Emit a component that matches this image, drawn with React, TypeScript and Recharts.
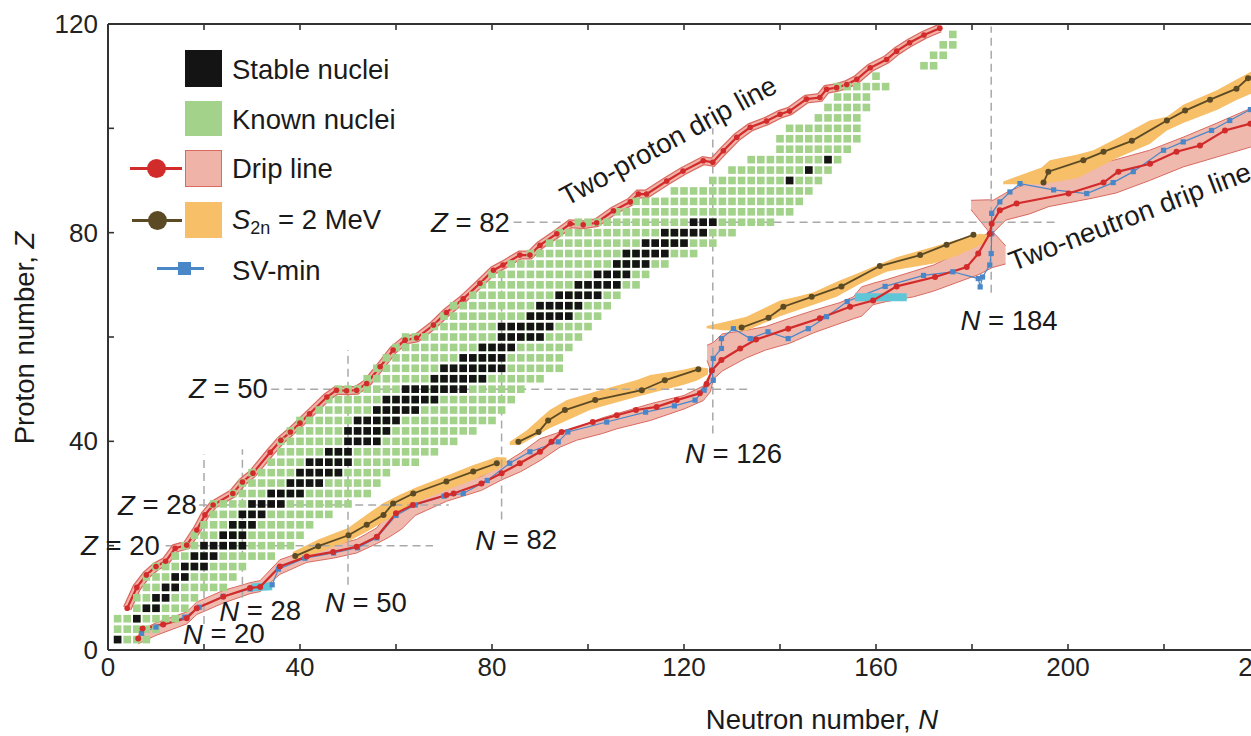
import React from 'react'
import { ComposedChart, XAxis, YAxis, Line, Area, Scatter, ReferenceDot } from 'recharts'

const FONT = '"Liberation Sans", Arial, Helvetica, sans-serif'
const X_TICKS = [0, 20, 40, 60, 80, 100, 120, 140, 160, 180, 200, 220, 240]
const Y_TICKS = [0, 20, 40, 60, 80, 100, 120]

// known (even-even) nuclei: one row per proton number, neutron range
const knownZ = [2, 4, 6, 8, 10, 12, 14, 16, 18, 20, 22, 24, 26, 28, 30, 32, 34, 36, 38, 40, 42, 44, 46, 48, 50, 52, 54, 56, 58, 60, 62, 64, 66, 68, 70, 72, 74, 76, 78, 80, 82, 84, 86, 88, 90, 92, 94, 96, 98, 100, 102, 104, 106, 108, 110, 112, 114, 116, 118]
const knownNmin = [2, 2, 2, 6, 6, 8, 8, 10, 14, 16, 18, 20, 22, 22, 26, 28, 30, 34, 36, 36, 38, 40, 44, 46, 48, 54, 56, 58, 60, 62, 68, 70, 72, 76, 78, 80, 84, 88, 92, 94, 98, 106, 110, 118, 126, 130, 134, 140, 140, 142, 148, 150, 152, 152, 160, 170, 172, 174, 176]
const knownNmax = [8, 10, 14, 16, 18, 24, 26, 28, 34, 38, 40, 42, 46, 50, 54, 56, 58, 64, 68, 72, 76, 80, 82, 84, 86, 90, 94, 94, 96, 98, 100, 102, 104, 106, 110, 112, 116, 122, 126, 130, 138, 142, 144, 146, 148, 150, 152, 154, 156, 156, 156, 158, 158, 162, 160, 172, 174, 176, 176]

// stable nuclei
const stableZ = [2, 6, 8, 10, 12, 14, 16, 18, 20, 22, 24, 26, 28, 30, 32, 34, 36, 38, 40, 42, 44, 46, 48, 50, 52, 54, 56, 58, 60, 62, 64, 66, 68, 70, 72, 74, 76, 78, 80, 82, 90, 92, 94]
const stableNmin = [2, 6, 8, 10, 12, 14, 16, 18, 20, 24, 26, 28, 30, 34, 38, 40, 42, 46, 50, 50, 52, 56, 58, 62, 68, 70, 74, 78, 82, 82, 88, 90, 94, 98, 102, 106, 108, 112, 116, 122, 142, 146, 150]
const stableNmax = [2, 6, 10, 12, 14, 16, 20, 22, 28, 28, 30, 32, 36, 40, 44, 48, 50, 50, 56, 58, 60, 64, 68, 74, 78, 82, 82, 84, 90, 92, 96, 98, 102, 106, 108, 112, 116, 120, 124, 126, 142, 146, 150]

// two-proton drip line [N, Z]
const protonDrip = [[4, 8], [6, 12], [8, 14.4], [10, 16], [12, 17], [14, 19.5], [16.4, 20.1], [18.5, 23], [20.2, 25.9], [21.9, 27.8], [26, 30], [28, 32.2], [30.2, 33.9], [33.8, 37.9], [36, 40.2], [38, 41.8], [40, 43.5], [42, 45.3], [45.6, 48.5], [47.6, 49.8], [49.7, 49.7], [51.8, 49.8], [53.9, 51.1], [56.7, 54.3], [59.4, 57.5], [61.9, 59.4], [64.3, 59.8], [67.8, 62.3], [70.5, 64.7], [74, 67.3], [77.5, 70.3], [80.3, 72.8], [82.3, 73.8], [85.8, 75.7], [87.9, 75.7], [90, 77.6], [93.5, 79.8], [96.3, 81.7], [99, 81.5], [101.8, 81.9], [105.3, 84.2], [108.8, 85.9], [110.5, 87.4], [112.2, 87.4], [116.4, 89.9], [119.8, 91.8], [124, 93.8], [126, 93.5], [128.2, 95.7], [131, 98.3], [133.8, 100.2], [137.2, 101.4], [140, 102.7], [142, 103.3], [145.5, 105.6], [148.3, 105.9], [149.7, 107.5], [151.8, 107.8], [153.9, 108.4], [156, 109.4], [158.8, 111.6], [162.2, 113.2], [164.3, 114.8], [167, 116.4], [170, 117.9], [173.3, 119.2]]

// two-neutron drip line [N, Z]
const neutronDrip = [[6.3, 2.2], [7.2, 4.1], [11.5, 4.9], [16.4, 6.1], [18.5, 8], [24, 10.2], [29.6, 11.9], [31.7, 12.1], [35.8, 16], [41.4, 17.9], [46.9, 18.8], [51.8, 19.8], [56, 21.7], [60, 26.2], [63.5, 27.8], [70.5, 29.7], [72, 30], [77.8, 31.9], [82, 33.9], [85.8, 35.8], [90, 38], [92.4, 39.9], [94.5, 41.8], [101, 43.7], [106, 45], [110, 46], [114.3, 46.6], [118.5, 47.9], [123.3, 49.2], [124.7, 51], [125.8, 53.6], [127.8, 55.6], [131.7, 57.8], [135, 59.5], [141.7, 61.6], [148.3, 63.6], [154.6, 65.8], [159.4, 67], [164.3, 69.7], [172.3, 71.5], [178.9, 73.4], [181.3, 76], [183.7, 79.8], [184.1, 81.7], [185.8, 84.3], [189.3, 85.6], [200.1, 87.5], [207.4, 89.6], [210.5, 91.7], [217.1, 93.2], [222.6, 95.5], [227.5, 96.7], [232.7, 99.6], [238, 100.9], [242, 101.8]]

// drip-line uncertainty [N, low Z, high Z]
const dripBandA = [[6.3, 1.2, 3.6], [10, 2.8, 5.2], [16.4, 5, 7.3], [18.5, 6.8, 9.2], [24, 9, 11.4], [29.6, 10.8, 12.9], [31.7, 11.2, 13.3], [35.8, 14.5, 17.3], [41.4, 16.8, 19.1], [46.9, 17.6, 20.1], [51.8, 18.6, 21.2], [56, 20.4, 23.4], [58.5, 21.6, 26.5], [61.2, 23.2, 28.4], [64, 25.8, 29.4], [70.5, 28.5, 31.3], [77.8, 30.6, 33.3], [82, 32.6, 35.5], [86, 34.2, 37.8], [90, 36.3, 40.5], [94.2, 38.9, 41.8], [97.6, 40.2, 42.6], [103, 41.5, 44.5], [106, 42.4, 45.3], [113, 44, 47.2], [120, 46.2, 48.8], [124, 47.8, 50.6], [125.5, 49.5, 53], [126.3, 52.5, 54]]
const dripBandB = [[124.8, 55.5, 58.4], [126.2, 52, 59], [128, 53.5, 60.6], [133, 56, 61.3], [137, 57.5, 62], [142, 58.8, 63.6], [147, 60.8, 65.1], [152.5, 62.6, 66.6], [155.3, 63.5, 67.7], [157, 64, 69.6], [159.4, 66.2, 70.3], [162.2, 66.8, 71], [167.8, 67.7, 72.6], [172, 68.8, 73.8], [178.2, 70.9, 76.6], [181.5, 72, 79], [184.2, 73.3, 80.3], [187, 74, 77.5]]
const dripBandC = [[179.8, 84.4, 86.2], [183.5, 80.2, 86.3], [184.4, 80, 86.2], [187, 82.4, 87.6], [192, 83.6, 89.7], [196, 85, 90.4], [205, 86.6, 93], [210, 87.6, 94], [217, 90, 95.8], [224, 92.6, 98.3], [231, 94.5, 101], [238, 96.4, 103.8], [242, 97.5, 105]]

// S2n = 2 MeV line [N, Z] and its band [N, low Z, high Z]
const s2nA = [[39, 18], [43.8, 19.9], [50.1, 22], [53.9, 24], [57.4, 25.9], [59.4, 28.1], [63.6, 30], [70.5, 32.3], [76.1, 34.2], [81, 35.8]]
const s2nB = [[85.5, 39.9], [89.7, 41.8], [91.7, 44], [95.2, 46], [101.5, 47.9], [111.2, 49.8], [116, 51.7], [123, 53.8]]
const s2nC = [[132, 61.8], [137.6, 63.7], [140.7, 65.8], [146.6, 67.7], [152.8, 69.7], [160.8, 73.6], [169.2, 75.7], [174.7, 77.7], [180.3, 79.6]]
const s2nD = [[194.9, 89.6], [195.9, 91.7], [203.2, 93.9], [207.4, 95.5], [213.3, 97.6], [220.6, 101.5], [224.4, 103.4], [229.6, 105.5], [235.1, 107.6], [237.5, 109.6], [241, 111]]
const s2nBandA = [[38.5, 17.2, 18.8], [43.8, 18.7, 21.2], [50, 20.8, 23.4], [54, 22.7, 26], [57.4, 24.6, 28.2], [60.9, 26.3, 29.8], [64.3, 28.3, 31.2], [70.5, 30.6, 33.4], [76, 32.6, 35.4], [81, 34.6, 37], [83, 35.6, 36.9]]
const s2nBandB = [[83.7, 39.3, 39.9], [85.8, 39.3, 41.2], [87.2, 40, 42.1], [92, 42.5, 46], [95.6, 44, 47.9], [100.4, 46, 49.2], [102.5, 46.6, 49.8], [110, 48.5, 51.7], [113, 49.2, 52.7], [119.8, 50.8, 53.7], [122.6, 51.6, 54.3], [125, 52.8, 54]]
const s2nBandC = [[124.7, 61.7, 62.1], [128, 61.3, 62.8], [133, 61.2, 63.9], [140, 64, 67], [143.5, 65.1, 67.7], [147, 66.2, 68.6], [151.8, 67.7, 70.6], [156.7, 70.2, 72.4], [162.2, 72.5, 74.5], [164.3, 72.9, 75.3], [172, 74.1, 77.3], [177, 75.6, 78.7], [181.7, 77.6, 79.8], [183.3, 78.5, 79.6]]
const s2nBandD = [[186.5, 89.3, 89.8], [194.5, 89.3, 92.5], [196.2, 89.5, 93.9], [202, 90.5, 95], [205.3, 92, 95.8], [210, 94.2, 98], [217, 97, 101.5], [220.6, 99.6, 102.2], [224, 101, 104.5], [231, 103.5, 107.3], [235, 105.4, 109.3], [238, 106.6, 110.8], [242, 107.6, 112]]

// SV-min drip line [N, Z]
const svMin = [[7, 3.2], [10, 4.4], [16, 6.3], [19, 8.2], [24, 10.3], [29.6, 11.7], [34.2, 12.5], [35.5, 15.5], [41, 17.6], [47, 18.6], [52, 19.6], [56, 21.5], [60, 25.8], [64, 27.8], [70, 29.5], [74, 30], [79, 32.5], [83.7, 35.8], [87.9, 38], [93.8, 39.9], [95.8, 41.8], [103.9, 43.7], [112, 45.6], [118, 46.8], [122.3, 47.9], [124.2, 49.8], [126.1, 51.7], [125.8, 53.6], [126.1, 55.9], [127.8, 57.8], [127.8, 59.7], [130.3, 61.6], [133.8, 59.7], [137.5, 61], [141.7, 59.7], [145.9, 61.6], [149.7, 63.9], [154, 66.8], [161.9, 69.7], [169.9, 71.8], [176, 72.5], [181.3, 71.2], [181.7, 69.6], [182.2, 71.5], [183.7, 73.8], [184, 76], [184.1, 79.8], [184.1, 83.7], [185.8, 85.9], [187.9, 87.8], [190, 89.4], [197, 88.2], [203.9, 87.5], [209.4, 89.6], [213.6, 91.7], [219.9, 95.8], [224, 97.4], [229.9, 99.6], [233.7, 101.5], [238, 103.6], [242, 104.5]]
const svMinPatchA = [[29.8, 12], [34.2, 12.2]]
const svMinPatchB = [[155.6, 67.6], [166.4, 67.6]]

// magic-number guide lines [[N, Z], [N, Z]]
const shellLines = [
  [[12, 20], [67.7, 20]],
  [[19, 27.8], [71, 27.8]],
  [[34, 50], [134, 50]],
  [[84.5, 82], [198, 82]],
  [[20, 5], [20, 37.5]],
  [[28, 10], [28, 38.5]],
  [[50, 12.5], [50, 57.5]],
  [[82, 25], [82, 73]],
  [[126, 41.5], [126, 100]],
  [[184, 68.5], [184, 119.5]],
]

const shellNotes = [
  { sym: 'Z', val: '20', at: [10.8, 20.1], anchor: 'end' },
  { sym: 'Z', val: '28', at: [18.5, 27.8], anchor: 'end' },
  { sym: 'Z', val: '50', at: [33.3, 50.2], anchor: 'end' },
  { sym: 'Z', val: '82', at: [83.7, 82], anchor: 'end' },
  { sym: 'N', val: '20', at: [15.6, 3.1], anchor: 'start' },
  { sym: 'N', val: '28', at: [23.2, 7.5], anchor: 'start' },
  { sym: 'N', val: '50', at: [45.2, 9.2], anchor: 'start' },
  { sym: 'N', val: '82', at: [76.5, 21.1], anchor: 'start' },
  { sym: 'N', val: '126', at: [120.2, 37.7], anchor: 'start' },
  { sym: 'N', val: '184', at: [177.6, 63.2], anchor: 'start' },
]

const lineNotes = [
  { text: 'Two-proton drip line', at: [94.6, 86.6], rot: -28.5 },
  { text: 'Two-neutron drip line', at: [187.9, 74.3], rot: -21 },
]

const gridPts = (zs: number[], lo: number[], hi: number[]) => {
  const out: { N: number; Z: number }[] = []
  zs.forEach((z, i) => {
    for (let n = lo[i]; n <= hi[i]; n += 2) out.push({ N: n, Z: z })
  })
  return out
}
const linePts = (rows: number[][]) => rows.map(([N, Z]) => ({ N, Z }))
const bandPts = (rows: number[][]) => rows.map(([N, lo, hi]) => ({ N, band: [lo, hi] }))

const knownPts = gridPts(knownZ, knownNmin, knownNmax)
const stablePts = gridPts(stableZ, stableNmin, stableNmax)

const RED = '#d22b2b'
const PINK = '#efb3a7'
const PINK_EDGE = '#d96a60'
const ORANGE = '#f6bf68'
const BROWN = '#5c4a24'
const BLUE = '#4a87c8'
const CYAN = '#5fc6d8'
const GREEN = '#a3d28a'
const TXT = 27.5

const GreenSquare = (p: any) => <rect x={p.cx - 3.8} y={p.cy - 3.8} width={7.6} height={7.6} fill={GREEN} />
const BlackSquare = (p: any) => <rect x={p.cx - 3.8} y={p.cy - 3.8} width={7.6} height={7.6} fill="#141414" />

const BottomTick = (p: any) => (
  <g>
    <line x1={p.x} x2={p.x} y1={p.y} y2={p.y - 6} stroke="#333" strokeWidth={1.6} />
    {p.payload.value % 40 === 0 ? (
      <text x={p.x} y={p.y + 26} textAnchor="middle" fontSize={26} fontFamily={FONT} fill="#222">
        {p.payload.value}
      </text>
    ) : null}
  </g>
)
const TopTick = (p: any) => (
  <line x1={p.x} x2={p.x} y1={p.y} y2={p.y + 6} stroke="#333" strokeWidth={1.6} />
)
const LeftTick = (p: any) => (
  <g>
    <line x1={p.x} x2={p.x + 6} y1={p.y} y2={p.y} stroke="#333" strokeWidth={1.6} />
    {p.payload.value % 40 === 0 ? (
      <text x={p.x - 10} y={p.y + 9} textAnchor="end" fontSize={26} fontFamily={FONT} fill="#222">
        {p.payload.value}
      </text>
    ) : null}
  </g>
)

const SvDot = (p: any) => (
  <rect key={`sv-${p.index}`} x={p.cx - 2.6} y={p.cy - 2.6} width={5.2} height={5.2} fill={BLUE} />
)

const legendText: React.CSSProperties = {
  position: 'absolute',
  left: 232,
  fontSize: TXT,
  lineHeight: '30px',
  color: '#1a1a1a',
  whiteSpace: 'nowrap',
}

export default function App() {
  const bands = [dripBandA, dripBandB, dripBandC]
  const oranges = [s2nBandA, s2nBandB, s2nBandC, s2nBandD]
  const s2nLines = [s2nA, s2nB, s2nC, s2nD]
  return (
    <div style={{ position: 'absolute', left: 0, top: 0, width: 1251, height: 736, overflow: 'hidden', background: '#fff', fontFamily: FONT }}>
      <ComposedChart width={1270} height={736} margin={{ top: 0, right: 10, bottom: 0, left: 0 }}>
        <XAxis dataKey="N" type="number" domain={[0, 240]} ticks={X_TICKS} interval={0} allowDataOverflow height={86}
          tickSize={0} tickMargin={0} tickLine={false} tick={(p: any) => <BottomTick {...p} />} axisLine={{ stroke: '#333', strokeWidth: 2 }} />
        <XAxis xAxisId="top" orientation="top" dataKey="N" type="number" domain={[0, 240]} ticks={X_TICKS} interval={0} allowDataOverflow height={24}
          tickSize={0} tickMargin={0} tickLine={false} tick={(p: any) => <TopTick {...p} />} axisLine={{ stroke: '#333', strokeWidth: 2 }} />
        <YAxis type="number" domain={[0, 120]} ticks={Y_TICKS} interval={0} allowDataOverflow width={108}
          tickSize={0} tickMargin={0} tickLine={false} tick={(p: any) => <LeftTick {...p} />} axisLine={{ stroke: '#333', strokeWidth: 2 }} />

        {shellLines.map((seg, i) => (
          <Line key={`shell-${i}`} data={linePts(seg)} dataKey="Z" stroke="#a9a9a9" strokeWidth={1.5} strokeDasharray="8 5"
            dot={false} activeDot={false} isAnimationActive={false} />
        ))}

        <Scatter data={knownPts} dataKey="Z" shape={GreenSquare} isAnimationActive={false} />
        <Scatter data={stablePts} dataKey="Z" shape={BlackSquare} isAnimationActive={false} />

        {bands.map((b, i) => (
          <Area key={`pink-${i}`} data={bandPts(b)} dataKey="band" type="linear" fill={PINK} fillOpacity={0.92}
            stroke={PINK_EDGE} strokeWidth={1} dot={false} activeDot={false} isAnimationActive={false} />
        ))}
        {oranges.map((b, i) => (
          <Area key={`orange-${i}`} data={bandPts(b)} dataKey="band" type="linear" fill={ORANGE} fillOpacity={1}
            stroke="none" dot={false} activeDot={false} isAnimationActive={false} />
        ))}

        <Line data={linePts(protonDrip)} dataKey="Z" stroke={PINK_EDGE} strokeWidth={9} dot={false} activeDot={false} isAnimationActive={false} />
        <Line data={linePts(protonDrip)} dataKey="Z" stroke="#f1b2a8" strokeWidth={6.5} dot={false} activeDot={false} isAnimationActive={false} />
        <Line data={linePts(protonDrip)} dataKey="Z" stroke={RED} strokeWidth={2.2}
          dot={{ r: 2.8, fill: RED, stroke: 'none' }} activeDot={false} isAnimationActive={false} />

        <Line data={linePts(svMin)} dataKey="Z" stroke={BLUE} strokeWidth={1.2} dot={SvDot} activeDot={false} isAnimationActive={false} />
        <Line data={linePts(svMinPatchA)} dataKey="Z" stroke={CYAN} strokeWidth={8} dot={false} activeDot={false} isAnimationActive={false} />
        <Line data={linePts(svMinPatchB)} dataKey="Z" stroke={CYAN} strokeWidth={8} dot={false} activeDot={false} isAnimationActive={false} />

        <Line data={linePts(neutronDrip)} dataKey="Z" stroke={RED} strokeWidth={2.2}
          dot={{ r: 3, fill: RED, stroke: 'none' }} activeDot={false} isAnimationActive={false} />
        {s2nLines.map((s, i) => (
          <Line key={`s2n-${i}`} data={linePts(s)} dataKey="Z" stroke={BROWN} strokeWidth={1.8}
            dot={{ r: 3, fill: BROWN, stroke: 'none' }} activeDot={false} isAnimationActive={false} />
        ))}

        {shellNotes.map((n, i) => (
          <ReferenceDot key={`note-${i}`} x={n.at[0]} y={n.at[1]} r={0} ifOverflow="visible"
            shape={(p: any) => (
              <text x={p.cx} y={p.cy} textAnchor={n.anchor as any} dominantBaseline="central" fontSize={TXT} fontFamily={FONT} fill="#1a1a1a">
                <tspan fontStyle="italic">{n.sym}</tspan> = {n.val}
              </text>
            )} />
        ))}
        {lineNotes.map((n, i) => (
          <ReferenceDot key={`ln-${i}`} x={n.at[0]} y={n.at[1]} r={0} ifOverflow="visible"
            shape={(p: any) => (
              <text x={p.cx} y={p.cy} textAnchor="start" dominantBaseline="central" fontSize={TXT} fontFamily={FONT} fill="#1a1a1a"
                transform={`rotate(${n.rot} ${p.cx} ${p.cy})`}>
                {n.text}
              </text>
            )} />
        ))}
      </ComposedChart>

      {/* legend */}
      <div style={{ position: 'absolute', left: 185, top: 50, width: 37, height: 37, background: '#141414' }} />
      <div style={{ ...legendText, top: 55 }}>Stable nuclei</div>
      <div style={{ position: 'absolute', left: 185, top: 101, width: 37, height: 35, background: GREEN }} />
      <div style={{ ...legendText, top: 105 }}>Known nuclei</div>
      <div style={{ position: 'absolute', left: 185, top: 150, width: 37, height: 37, background: PINK, border: `1.5px solid ${PINK_EDGE}`, boxSizing: 'border-box' }} />
      <div style={{ position: 'absolute', left: 130, top: 166.5, width: 52, height: 3, background: RED }} />
      <div style={{ position: 'absolute', left: 146.5, top: 158.5, width: 19, height: 19, borderRadius: '50%', background: RED }} />
      <div style={{ ...legendText, top: 154 }}>Drip line</div>
      <div style={{ position: 'absolute', left: 185, top: 202, width: 37, height: 36, background: ORANGE }} />
      <div style={{ position: 'absolute', left: 132, top: 218.5, width: 50, height: 3, background: BROWN }} />
      <div style={{ position: 'absolute', left: 147.5, top: 210.5, width: 19, height: 19, borderRadius: '50%', background: BROWN }} />
      <div style={{ ...legendText, top: 205 }}>
        <i>S</i><sub style={{ fontSize: 18, verticalAlign: '-5px' }}>2n</sub> = 2 MeV
      </div>
      <div style={{ position: 'absolute', left: 157, top: 267, width: 47, height: 2.5, background: BLUE }} />
      <div style={{ position: 'absolute', left: 177.5, top: 261.5, width: 13, height: 13, background: BLUE }} />
      <div style={{ ...legendText, top: 256 }}>SV-min</div>

      {/* axis titles */}
      <div style={{ position: 'absolute', left: 25, top: 338, transform: 'translate(-50%, -50%) rotate(-90deg)', fontSize: TXT, whiteSpace: 'nowrap', color: '#1a1a1a' }}>
        Proton number, <i>Z</i>
      </div>
      <div style={{ position: 'absolute', left: 822, top: 720, transform: 'translate(-50%, -50%)', fontSize: TXT, whiteSpace: 'nowrap', color: '#1a1a1a' }}>
        Neutron number, <i>N</i>
      </div>
    </div>
  )
}
